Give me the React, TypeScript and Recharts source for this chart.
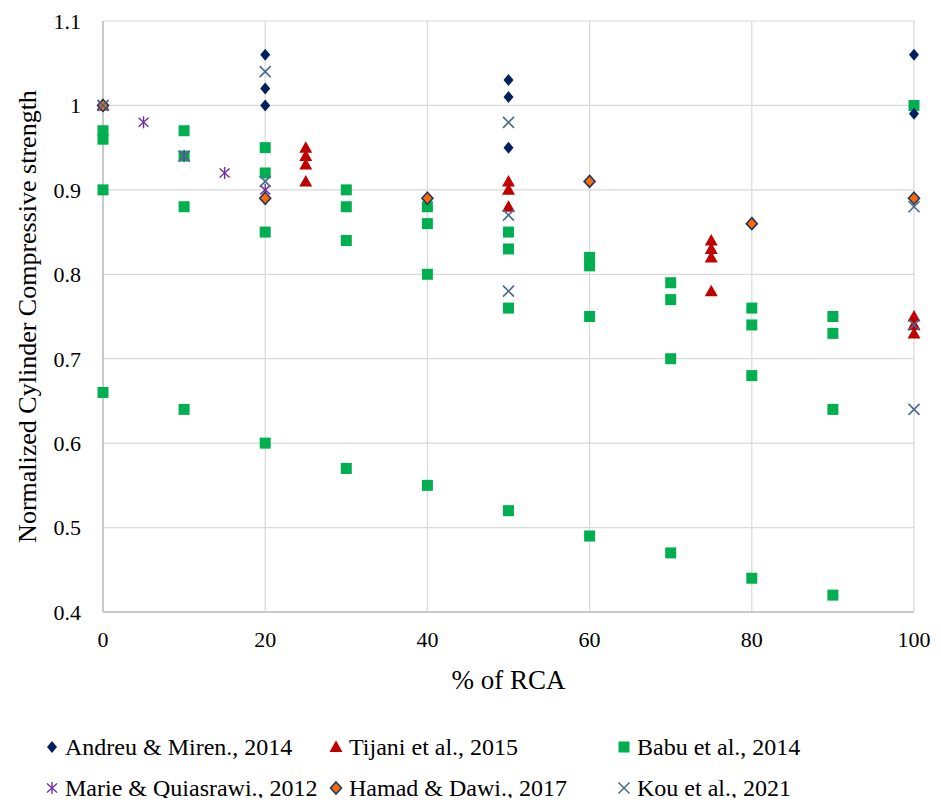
import React from 'react';
import { ScatterChart, Scatter, XAxis, YAxis, CartesianGrid } from 'recharts';

type P = { x: number; y: number };

const andreu: P[] = [
  { x: 0, y: 1.0 }, { x: 20, y: 1.06 }, { x: 20, y: 1.02 }, { x: 20, y: 1.0 },
  { x: 50, y: 1.03 }, { x: 50, y: 1.01 }, { x: 50, y: 0.95 },
  { x: 100, y: 1.06 }, { x: 100, y: 0.99 },
];
const tijani: P[] = [
  { x: 0, y: 1.0 },
  { x: 25, y: 0.95 }, { x: 25, y: 0.94 }, { x: 25, y: 0.93 }, { x: 25, y: 0.91 },
  { x: 50, y: 0.91 }, { x: 50, y: 0.9 }, { x: 50, y: 0.88 },
  { x: 75, y: 0.84 }, { x: 75, y: 0.83 }, { x: 75, y: 0.82 }, { x: 75, y: 0.78 },
  { x: 100, y: 0.75 }, { x: 100, y: 0.74 }, { x: 100, y: 0.73 },
];
const babu: P[] = [
  { x: 0, y: 0.97 }, { x: 0, y: 0.96 }, { x: 0, y: 0.9 }, { x: 0, y: 0.66 },
  { x: 10, y: 0.97 }, { x: 10, y: 0.94 }, { x: 10, y: 0.88 }, { x: 10, y: 0.64 },
  { x: 20, y: 0.95 }, { x: 20, y: 0.92 }, { x: 20, y: 0.85 }, { x: 20, y: 0.6 },
  { x: 30, y: 0.9 }, { x: 30, y: 0.88 }, { x: 30, y: 0.84 }, { x: 30, y: 0.57 },
  { x: 40, y: 0.88 }, { x: 40, y: 0.86 }, { x: 40, y: 0.8 }, { x: 40, y: 0.55 },
  { x: 50, y: 0.85 }, { x: 50, y: 0.83 }, { x: 50, y: 0.76 }, { x: 50, y: 0.52 },
  { x: 60, y: 0.82 }, { x: 60, y: 0.81 }, { x: 60, y: 0.75 }, { x: 60, y: 0.49 },
  { x: 70, y: 0.79 }, { x: 70, y: 0.77 }, { x: 70, y: 0.7 }, { x: 70, y: 0.47 },
  { x: 80, y: 0.76 }, { x: 80, y: 0.74 }, { x: 80, y: 0.68 }, { x: 80, y: 0.44 },
  { x: 90, y: 0.75 }, { x: 90, y: 0.73 }, { x: 90, y: 0.64 }, { x: 90, y: 0.42 },
  { x: 100, y: 1.0 },
];
const marie: P[] = [
  { x: 0, y: 1.0 }, { x: 5, y: 0.98 }, { x: 10, y: 0.94 }, { x: 15, y: 0.92 }, { x: 20, y: 0.9 },
];
const hamad: P[] = [
  { x: 0, y: 1.0 }, { x: 20, y: 0.89 }, { x: 40, y: 0.89 }, { x: 60, y: 0.91 },
  { x: 80, y: 0.86 }, { x: 100, y: 0.89 },
];
const kou: P[] = [
  { x: 0, y: 1.0 }, { x: 10, y: 0.94 }, { x: 20, y: 1.04 }, { x: 20, y: 0.91 },
  { x: 50, y: 0.98 }, { x: 50, y: 0.87 }, { x: 50, y: 0.78 },
  { x: 100, y: 0.88 }, { x: 100, y: 0.74 }, { x: 100, y: 0.64 },
];

const xTicks = [0, 20, 40, 60, 80, 100];
const yTicks = [0.4, 0.5, 0.6, 0.7, 0.8, 0.9, 1, 1.1];

const NAVY = '#002060';
const RED = '#C00000';
const GREEN = '#00B050';
const PURPLE = '#7030A0';
const ORANGE = '#FF6A00';
const KOU = '#4A6A8E';

const FONT = '"Liberation Serif", "Times New Roman", serif';

function Diamond({ cx, cy }: any) {
  return <polygon points={`${cx},${cy - 6} ${cx + 5},${cy} ${cx},${cy + 6} ${cx - 5},${cy}`} fill={NAVY} />;
}
function HDiamond({ cx, cy }: any) {
  return (
    <polygon
      points={`${cx},${cy - 6} ${cx + 5.5},${cy} ${cx},${cy + 6} ${cx - 5.5},${cy}`}
      fill={ORANGE}
      stroke="#1F3864"
      strokeWidth={1.6}
    />
  );
}
function Tri({ cx, cy }: any) {
  return <polygon points={`${cx},${cy - 6.5} ${cx + 6.5},${cy + 5} ${cx - 6.5},${cy + 5}`} fill={RED} />;
}
function Sq({ cx, cy }: any) {
  return <rect x={cx - 5.5} y={cy - 5.5} width={11} height={11} fill={GREEN} />;
}
function Star({ cx, cy }: any) {
  const r = 6;
  return (
    <g stroke={PURPLE} strokeWidth={1.4}>
      <line x1={cx} y1={cy - r} x2={cx} y2={cy + r} />
      <line x1={cx - 5} y1={cy - 4.5} x2={cx + 5} y2={cy + 4.5} />
      <line x1={cx - 5} y1={cy + 4.5} x2={cx + 5} y2={cy - 4.5} />
    </g>
  );
}
function Cross({ cx, cy }: any) {
  const r = 5.5;
  return (
    <g stroke={KOU} strokeWidth={1.6}>
      <line x1={cx - r} y1={cy - r} x2={cx + r} y2={cy + r} />
      <line x1={cx - r} y1={cy + r} x2={cx + r} y2={cy - r} />
    </g>
  );
}

const legendItems = [
  { name: 'Andreu & Miren., 2014', Shape: Diamond, left: 44, top: 739 },
  { name: 'Tijani et al., 2015', Shape: Tri, left: 328, top: 739 },
  { name: 'Babu et al., 2014', Shape: Sq, left: 616, top: 739 },
  { name: 'Marie & Quiasrawi., 2012', Shape: Star, left: 44, top: 780 },
  { name: 'Hamad & Dawi., 2017', Shape: HDiamond, left: 328, top: 780 },
  { name: 'Kou et al., 2021', Shape: Cross, left: 616, top: 780 },
];

const YLabel = (props: any) => {
  const vb = props.viewBox;
  const cy = vb.y + vb.height / 2;
  const bx = 28;
  return (
    <text
      x={bx}
      y={cy}
      transform={`rotate(-90, ${bx}, ${cy})`}
      textAnchor="middle"
      fontFamily={FONT}
      fontSize={26}
      fill="#000"
    >
      Normalized Cylinder Compressive strength
    </text>
  );
};

const XLabel = (props: any) => {
  const vb = props.viewBox;
  return (
    <text
      x={vb.x + vb.width / 2}
      y={vb.y + 77}
      textAnchor="middle"
      fontFamily={FONT}
      fontSize={27}
      fill="#000"
    >
      % of RCA
    </text>
  );
};

export default function App() {
  return (
    <div style={{ position: 'relative', width: 925, height: 790 }}>
      <ScatterChart width={925} height={790} margin={{ top: 13, right: 19, left: 0, bottom: 106 }}>
        <CartesianGrid stroke="#D9D9D9" strokeWidth={1.2} />
        <XAxis
          type="number"
          dataKey="x"
          domain={[0, 100]}
          ticks={xTicks}
          tickLine={false}
          axisLine={{ stroke: '#BFBFBF', strokeWidth: 1.5 }}
          tick={{ fontFamily: FONT, fontSize: 22, fill: '#000' }}
          tickMargin={13}
          height={80}
          label={{ content: XLabel }}
        />
        <YAxis
          type="number"
          dataKey="y"
          domain={[0.4, 1.1]}
          ticks={yTicks}
          tickLine={false}
          axisLine={{ stroke: '#BFBFBF', strokeWidth: 1.5 }}
          tick={{ fontFamily: FONT, fontSize: 22, fill: '#000', dx: -7 }}
          tickMargin={9}
          width={95}
          label={{ content: YLabel }}
        />
        <Scatter data={babu} shape={Sq} isAnimationActive={false} />
        <Scatter data={andreu} shape={Diamond} isAnimationActive={false} />
        <Scatter data={tijani} shape={Tri} isAnimationActive={false} />
        <Scatter data={marie} shape={Star} isAnimationActive={false} />
        <Scatter data={hamad} shape={HDiamond} isAnimationActive={false} />
        <Scatter data={kou} shape={Cross} isAnimationActive={false} />
      </ScatterChart>
      {legendItems.map((it) => (
        <div
          key={it.name}
          style={{
            position: 'absolute',
            left: it.left - 8,
            top: it.top - 16,
            height: 32,
            display: 'flex',
            alignItems: 'center',
            fontFamily: FONT,
            fontSize: 24,
            color: '#000',
            whiteSpace: 'nowrap',
          }}
        >
          <svg width={16} height={16} style={{ marginRight: 5 }}>
            <it.Shape cx={8} cy={8} />
          </svg>
          {it.name}
        </div>
      ))}
    </div>
  );
}
